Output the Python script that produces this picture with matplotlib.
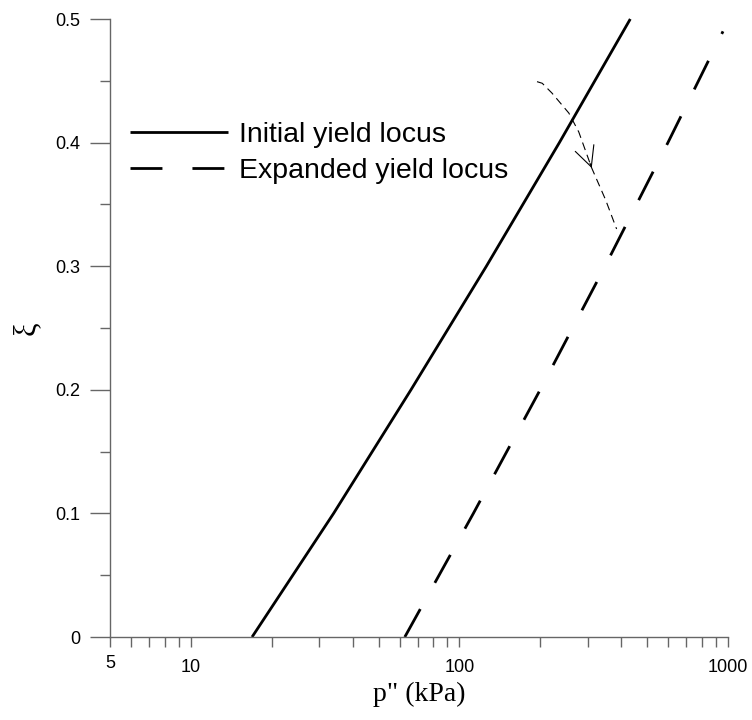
import matplotlib
matplotlib.use('Agg')
import matplotlib.pyplot as plt
from matplotlib.ticker import FixedLocator, FixedFormatter, NullFormatter

plt.rcParams['font.family'] = ['Liberation Sans', 'DejaVu Sans']

# Data
xi_initial = [0.0, 0.1, 0.2, 0.3, 0.4, 0.5]
p_initial = [16.9, 34.0, 66.0, 126.0, 235.6, 432.7]

xi_expanded = [0.0, 0.1, 0.2, 0.3, 0.4, 0.49]
p_expanded = [62.6, 112.7, 199.8, 348.5, 597.5, 958.0]

path_p = [194.5, 203.4, 221.0, 255.5, 278.2, 310.9, 350.3, 384.8]
path_xi = [0.4493, 0.4480, 0.4401, 0.4239, 0.4086, 0.3794, 0.3536, 0.3301]
arrow_tip = 5

x_major = [5, 10, 100, 1000]
x_major_labels = ['5', '10', '100', '1000']
x_minor = [6, 7, 8, 9, 20, 30, 40, 50, 60, 70, 80, 90,
           200, 300, 400, 500, 600, 700, 800, 900]
y_major = [0.0, 0.1, 0.2, 0.3, 0.4, 0.5]
y_major_labels = ['0', '0.1', '0.2', '0.3', '0.4', '0.5']
y_minor = [0.05, 0.15, 0.25, 0.35, 0.45]

labels = ['Initial yield locus', 'Expanded yield locus']

fig = plt.figure(figsize=(7.52, 7.2), dpi=100)
ax = fig.add_axes([110 / 752, 1 - 637 / 720, 618 / 752, 618 / 720])
ax.set_xscale('log')
ax.set_xlim(5, 1000)
ax.set_ylim(0, 0.5)

l1, = ax.plot(p_initial, xi_initial, color='black', lw=2.0,
              solid_capstyle='butt', label=labels[0], clip_on=False)
l2, = ax.plot(p_expanded, xi_expanded, color='black', lw=2.0,
              dashes=(11.5, 10.8), dash_capstyle='butt', label=labels[1],
              clip_on=False)

ax.plot(path_p, path_xi, color='black', lw=0.8, dashes=(7.2, 4.5),
        dash_capstyle='butt')
ax.annotate('', xy=(path_p[arrow_tip], path_xi[arrow_tip]),
            xytext=(path_p[arrow_tip - 1], path_xi[arrow_tip - 1]),
            arrowprops=dict(arrowstyle='->,head_length=1.44,head_width=0.71',
                            lw=0.8, color='black', shrinkA=24, shrinkB=0,
                            mutation_scale=10))

for s in ['top', 'right']:
    ax.spines[s].set_visible(False)
for s in ['left', 'bottom']:
    ax.spines[s].set_color('#666666')
    ax.spines[s].set_linewidth(1.0)

ax.xaxis.set_major_locator(FixedLocator(x_major))
ax.xaxis.set_major_formatter(FixedFormatter(x_major_labels))
ax.xaxis.set_minor_locator(FixedLocator(x_minor))
ax.xaxis.set_minor_formatter(NullFormatter())
ax.yaxis.set_major_locator(FixedLocator(y_major))
ax.yaxis.set_major_formatter(FixedFormatter(y_major_labels))
ax.yaxis.set_minor_locator(FixedLocator(y_minor))
ax.yaxis.set_minor_formatter(NullFormatter())

ax.tick_params(axis='y', which='major', direction='out', length=14.4, width=1.0,
               color='#666666', labelsize=13, pad=7.2, labelcolor='black')
ax.tick_params(axis='y', which='minor', direction='out', length=7.2, width=1.0,
               color='#666666')
ax.tick_params(axis='x', which='both', direction='out', length=7.2, width=1.0,
               color='#666666', labelsize=13, pad=9.0, labelcolor='black')
ax.xaxis.get_major_ticks()[0].set_pad(6.0)

ax.set_xlabel('p" (kPa)', fontfamily=['Liberation Serif', 'DejaVu Serif'],
              fontsize=20, labelpad=4)
ax.set_ylabel('ξ', fontfamily=['Liberation Serif', 'DejaVu Serif'],
              fontsize=22, labelpad=10)

ax.legend(handles=[l1, l2], labels=labels, loc='upper left',
          bbox_to_anchor=(0.032, 0.833), frameon=False,
          prop={'family': ['Liberation Sans', 'DejaVu Sans'], 'size': 20.5},
          handlelength=3.45, handletextpad=0.4, borderpad=0, borderaxespad=0,
          labelspacing=0.36)

fig.savefig('out.png', dpi=100)
